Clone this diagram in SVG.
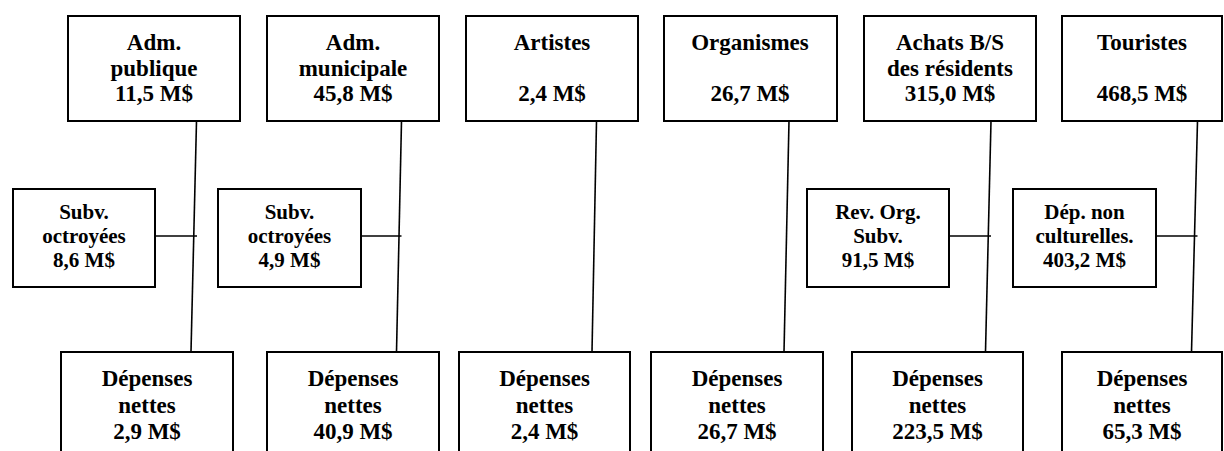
<svg xmlns="http://www.w3.org/2000/svg" width="1224" height="451" viewBox="0 0 1224 451">
<style>
.box{fill:#fff;stroke:#000;stroke-width:2}
.ln{stroke:#000;stroke-width:1.6;fill:none}
.t{font-weight:700;font-size:23px;text-anchor:middle;fill:#000}
.s{font-weight:700;font-size:21px;text-anchor:middle;fill:#000}
</style>
<rect width="1224" height="451" fill="#fff"/>
<g id="connectors">
<line class="ln" x1="196.5" y1="121" x2="191" y2="352"/>
<line class="ln" x1="155" y1="236" x2="197" y2="236"/>
<line class="ln" x1="401.5" y1="121" x2="396.5" y2="352"/>
<line class="ln" x1="361" y1="236" x2="401.5" y2="236"/>
<line class="ln" x1="596.5" y1="121" x2="592" y2="352"/>
<line class="ln" x1="789" y1="121" x2="784" y2="352"/>
<line class="ln" x1="991" y1="121" x2="985.5" y2="352"/>
<line class="ln" x1="949" y1="236" x2="991" y2="236"/>
<line class="ln" x1="1197.5" y1="121" x2="1191.5" y2="352"/>
<line class="ln" x1="1156" y1="236" x2="1197.5" y2="236"/>
</g>
<g font-family="Liberation Serif, DejaVu Serif Condensed, DejaVu Serif, serif">
<g id="top1"><rect class="box" x="68" y="16" width="172" height="105"/>
<text class="t" x="154" y="50">Adm.</text><text class="t" x="154" y="76">publique</text><text class="t" x="154" y="101">11,5 M$</text></g>
<g id="top2"><rect class="box" x="267" y="16" width="172" height="105"/>
<text class="t" x="353" y="50">Adm.</text><text class="t" x="353" y="76">municipale</text><text class="t" x="353" y="101">45,8 M$</text></g>
<g id="top3"><rect class="box" x="466" y="16" width="172" height="105"/>
<text class="t" x="552" y="50">Artistes</text><text class="t" x="552" y="101">2,4 M$</text></g>
<g id="top4"><rect class="box" x="664" y="16" width="173" height="105"/>
<text class="t" x="750" y="50">Organismes</text><text class="t" x="750" y="101">26,7 M$</text></g>
<g id="top5"><rect class="box" x="864" y="16" width="172" height="105"/>
<text class="t" x="950" y="50">Achats B/S</text><text class="t" x="950" y="76">des résidents</text><text class="t" x="950" y="101">315,0 M$</text></g>
<g id="top6"><rect class="box" x="1062" y="16" width="160" height="105"/>
<text class="t" x="1142" y="50">Touristes</text><text class="t" x="1142" y="101">468,5 M$</text></g>
<g id="side1"><rect class="box" x="13" y="189" width="142" height="98"/>
<text class="s" x="84" y="219">Subv.</text><text class="s" x="84" y="243">octroyées</text><text class="s" x="84" y="267">8,6 M$</text></g>
<g id="side2"><rect class="box" x="218" y="189" width="143" height="98"/>
<text class="s" x="289.5" y="219">Subv.</text><text class="s" x="289.5" y="243">octroyées</text><text class="s" x="289.5" y="267">4,9 M$</text></g>
<g id="side3"><rect class="box" x="807" y="189" width="142" height="98"/>
<text class="s" x="878" y="219">Rev. Org.</text><text class="s" x="878" y="243">Subv.</text><text class="s" x="878" y="267">91,5 M$</text></g>
<g id="side4"><rect class="box" x="1013" y="189" width="143" height="98"/>
<text class="s" x="1084.5" y="219">Dép. non</text><text class="s" x="1084.5" y="243">culturelles.</text><text class="s" x="1084.5" y="267">403,2 M$</text></g>
<g id="bot1"><rect class="box" x="61" y="352" width="172" height="120"/>
<text class="t" x="147" y="386">Dépenses</text><text class="t" x="147" y="413">nettes</text><text class="t" x="147" y="439">2,9 M$</text></g>
<g id="bot2"><rect class="box" x="267" y="352" width="172" height="120"/>
<text class="t" x="353" y="386">Dépenses</text><text class="t" x="353" y="413">nettes</text><text class="t" x="353" y="439">40,9 M$</text></g>
<g id="bot3"><rect class="box" x="459" y="352" width="171" height="120"/>
<text class="t" x="544.5" y="386">Dépenses</text><text class="t" x="544.5" y="413">nettes</text><text class="t" x="544.5" y="439">2,4 M$</text></g>
<g id="bot4"><rect class="box" x="651" y="352" width="172" height="120"/>
<text class="t" x="737" y="386">Dépenses</text><text class="t" x="737" y="413">nettes</text><text class="t" x="737" y="439">26,7 M$</text></g>
<g id="bot5"><rect class="box" x="852" y="352" width="171" height="120"/>
<text class="t" x="937.5" y="386">Dépenses</text><text class="t" x="937.5" y="413">nettes</text><text class="t" x="937.5" y="439">223,5 M$</text></g>
<g id="bot6"><rect class="box" x="1062" y="352" width="160" height="120"/>
<text class="t" x="1142" y="386">Dépenses</text><text class="t" x="1142" y="413">nettes</text><text class="t" x="1142" y="439">65,3 M$</text></g>
</g>
</svg>
